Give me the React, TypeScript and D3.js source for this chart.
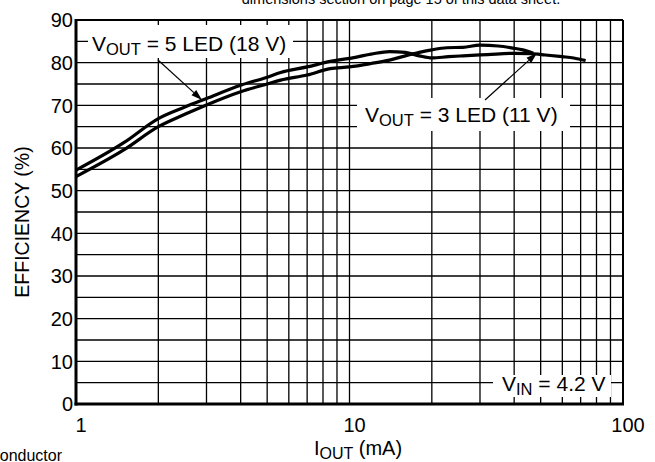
import * as d3 from 'd3';
import React, { useEffect, useRef } from 'react';

// Efficiency vs output current
const iOut3Led = [1, 1.5, 2, 2.5, 3, 4, 5, 5.6, 7, 8.5, 10, 12, 14, 16, 18, 20, 23, 26, 32, 40, 46, 52, 60, 66, 73];
const eff3Led = [54.8, 61.3, 66.9, 69.6, 71.6, 74.7, 76.6, 77.7, 79.0, 80.3, 81.0, 82.0, 82.6, 82.4, 81.6, 81.1, 81.4, 81.6, 81.9, 82.2, 82.1, 81.8, 81.4, 81.1, 80.5];

const iOut5Led = [1, 1.5, 2, 2.5, 3, 4, 5, 5.6, 7, 8.5, 10, 12, 14, 16, 18, 20, 22.7, 26, 30, 35, 39.7, 43, 47];
const eff5Led = [53.3, 59.6, 65.0, 67.9, 70.1, 73.2, 75.0, 75.9, 77.1, 78.6, 79.0, 79.8, 80.6, 81.6, 82.4, 83.0, 83.5, 83.6, 84.1, 83.9, 83.4, 83.0, 82.2];

const xTickLabels = [1, 10, 100];
const yTickLabels = [0, 10, 20, 30, 40, 50, 60, 70, 80, 90];

const W = 655;
const H = 462;
const FONT = 'Liberation Sans, Arial, sans-serif';

const App = () => {
    const ref = useRef<SVGSVGElement>(null);

    useEffect(() => {
        const svg = d3.select(ref.current);
        svg.selectAll('*').remove();

        const x = d3.scaleLog().domain([1, 100]).range([76, 623]);
        const y = d3.scaleLinear().domain([0, 90]).range([404, 20]);

        // grid
        const g = svg.append('g').attr('stroke', '#000').attr('stroke-width', 1.3);
        g.selectAll('line.v')
            .data(x.ticks().filter(d => d > 1 && d < 100))
            .enter().append('line')
            .attr('x1', d => x(d)).attr('x2', d => x(d))
            .attr('y1', y(0)).attr('y2', y(90));
        g.selectAll('line.h')
            .data(d3.range(5, 90, 5))
            .enter().append('line')
            .attr('x1', x(1)).attr('x2', x(100))
            .attr('y1', d => y(d)).attr('y2', d => y(d));

        // white boxes behind the labels
        const boxes = [
            [88, 25, 205, 33],
            [357, 98, 213, 33],
            [493, 375, 118, 22],
        ];
        svg.selectAll('rect.box')
            .data(boxes)
            .enter().append('rect')
            .attr('x', d => d[0]).attr('y', d => d[1])
            .attr('width', d => d[2]).attr('height', d => d[3])
            .attr('fill', '#fff');

        // curves
        const line = d3.line<[number, number]>()
            .x(d => x(d[0]))
            .y(d => y(d[1]))
            .curve(d3.curveMonotoneX);
        const series = [
            iOut3Led.map((v, i) => [v, eff3Led[i]] as [number, number]),
            iOut5Led.map((v, i) => [v, eff5Led[i]] as [number, number]),
        ];
        svg.selectAll('path.curve')
            .data(series)
            .enter().append('path')
            .attr('d', d => line(d))
            .attr('fill', 'none')
            .attr('stroke', '#000')
            .attr('stroke-width', 3.2)
            .attr('stroke-linejoin', 'round');

        // frame
        svg.append('line').attr('x1', x(1)).attr('x2', x(100)).attr('y1', y(90)).attr('y2', y(90))
            .attr('stroke', '#000').attr('stroke-width', 2);
        svg.append('line').attr('x1', x(100)).attr('x2', x(100)).attr('y1', y(0)).attr('y2', y(90))
            .attr('stroke', '#000').attr('stroke-width', 2);
        svg.append('line').attr('x1', x(1)).attr('x2', x(1)).attr('y1', y(0) + 1.5).attr('y2', y(90) - 1)
            .attr('stroke', '#000').attr('stroke-width', 3);
        svg.append('line').attr('x1', x(1) - 1.5).attr('x2', x(100) + 1).attr('y1', y(0)).attr('y2', y(0))
            .attr('stroke', '#000').attr('stroke-width', 3);

        // tick labels
        svg.selectAll('text.yt')
            .data(yTickLabels)
            .enter().append('text')
            .attr('x', 73).attr('y', d => y(d))
            .attr('dy', '0.36em')
            .attr('text-anchor', 'end')
            .style('font-family', FONT).style('font-size', '20px')
            .text(d => d);
        svg.selectAll('text.xt')
            .data(xTickLabels)
            .enter().append('text')
            .attr('x', d => x(d) + 5).attr('y', 432)
            .attr('text-anchor', 'middle')
            .style('font-family', FONT).style('font-size', '20px')
            .text(d => d);

        // axis titles
        svg.append('text')
            .attr('transform', `translate(29, 222) rotate(-90)`)
            .attr('text-anchor', 'middle')
            .style('font-family', FONT).style('font-size', '19.5px')
            .text('EFFICIENCY (%)');
        const xt = svg.append('text')
            .attr('x', 358).attr('y', 455)
            .attr('text-anchor', 'middle')
            .style('font-family', FONT).style('font-size', '20px');
        xt.append('tspan').text('I');
        xt.append('tspan').attr('dy', 4).style('font-size', '16px').text('OUT');
        xt.append('tspan').attr('dy', -4).text(' (mA)');

        // annotations
        const labels: [number, number, string, string][] = [
            [92, 51, 'OUT', ' = 5 LED (18 V)'],
            [365, 122, 'OUT', ' = 3 LED (11 V)'],
            [502, 391, 'IN', ' = 4.2 V'],
        ];
        labels.forEach(([lx, ly, sub, rest]) => {
            const t = svg.append('text').attr('x', lx).attr('y', ly)
                .style('font-family', FONT).style('font-size', '21px');
            t.append('tspan').text('V');
            t.append('tspan').attr('dy', 4).style('font-size', '16.5px').text(sub);
            t.append('tspan').attr('dy', -4).text(rest);
        });

        // arrows
        const arrows = [
            [158, 60, 202, 100],
            [485, 100, 537, 53],
        ];
        arrows.forEach(([x1, y1, x2, y2]) => {
            const a = Math.atan2(y2 - y1, x2 - x1);
            const len = 11;
            const wd = 3.5;
            const bx = x2 - len * Math.cos(a);
            const by = y2 - len * Math.sin(a);
            svg.append('line').attr('x1', x1).attr('y1', y1).attr('x2', bx).attr('y2', by)
                .attr('stroke', '#000').attr('stroke-width', 1.2);
            svg.append('path')
                .attr('d', `M${x2},${y2}L${bx - wd * Math.sin(a)},${by + wd * Math.cos(a)}L${bx + wd * Math.sin(a)},${by - wd * Math.cos(a)}Z`)
                .attr('fill', '#000');
        });

        // clipped page text
        svg.append('text')
            .attr('x', 401).attr('y', 4)
            .attr('text-anchor', 'middle')
            .style('font-family', FONT).style('font-size', '14.5px')
            .text('dimensions section on page 15 of this data sheet.');
        svg.append('text')
            .attr('x', 62).attr('y', 461)
            .attr('text-anchor', 'end')
            .style('font-family', FONT).style('font-size', '16px')
            .text('Semiconductor');
    }, []);

    return (
        <svg ref={ref} width={W} height={H}
            style={{ position: 'fixed', left: 0, top: 0, background: '#fff' }} />
    );
};

export default App;
